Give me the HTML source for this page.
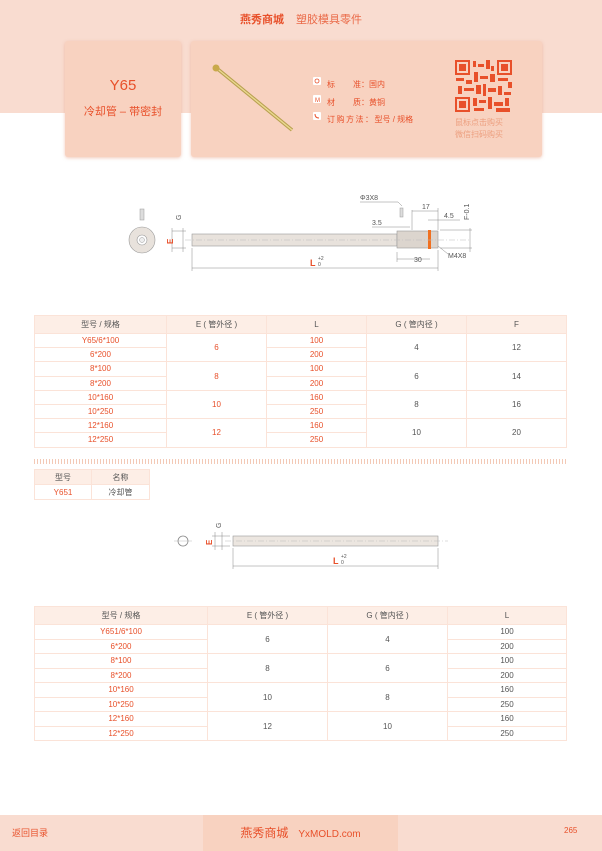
<!DOCTYPE html>
<html><head><meta charset="utf-8"><style>
*{margin:0;padding:0;box-sizing:border-box}
body{width:602px;height:851px;position:relative;background:#fff;font-family:"Liberation Sans","Noto Sans CJK SC",sans-serif;overflow:hidden}
.abs{position:absolute}
.band{left:0;top:0;width:602px;height:113px;background:#f9dcd0}
.card{background:#f8d2c0;border-radius:3px;box-shadow:0 1px 3px rgba(230,150,120,.5)}
table{border-collapse:collapse;position:absolute;font-size:8px;table-layout:fixed}
td,th{border:1px solid #fbe3d8;text-align:center;font-weight:normal;color:#555;padding:0}
th{background:#fdeee6;color:#555;font-size:8px}
.r{color:#e8502a}
.dots{left:34px;top:459px;width:532px;height:5px;background:repeating-linear-gradient(90deg,#f3c9b6 0 1px,transparent 1px 3px)}
</style></head><body>
<div class="abs band"></div>
<div class="abs" style="left:0;top:11px;width:602px;text-align:center;font-size:11px;color:#e8502a"><b>燕秀商城</b><span style="margin-left:12px;color:#ea6a48">塑胶模具零件</span></div>
<div class="abs card" style="left:65px;top:41px;width:116px;height:116px"></div>
<div class="abs" style="left:65px;top:77px;width:116px;text-align:center;font-size:15px;color:#e8502a">Y65</div>
<div class="abs" style="left:65px;top:103px;width:116px;text-align:center;font-size:11px;color:#e8502a">冷却管 – 带密封</div>
<div class="abs card" style="left:191px;top:41px;width:351px;height:116px"></div>
<svg class="abs" style="left:0;top:0" width="602" height="160">
<line x1="214" y1="66" x2="292" y2="130" stroke="#b8a050" stroke-width="3.5"/>
<line x1="214" y1="66" x2="292" y2="130" stroke="#ead890" stroke-width="1.4"/>
<circle cx="216" cy="68" r="3.5" fill="#c9a94a"/>
<g fill="#fff"><rect x="313" y="77" width="8" height="8" rx="1"/><rect x="313" y="95" width="8" height="8" rx="1"/><rect x="313" y="112" width="8" height="8" rx="1"/></g>
<circle cx="317" cy="81" r="2" fill="none" stroke="#e8502a" stroke-width=".8"/>
<text x="315" y="102" font-size="6" fill="#e8502a" font-family="Liberation Sans">M</text>
<path d="M315 114 q0 4 4 4" stroke="#e8502a" fill="none"/>
<g fill="#e8502a">
<rect x="455" y="60" width="15" height="15"/><rect x="497" y="60" width="15" height="15"/><rect x="455" y="97" width="15" height="15"/>
</g>
<g fill="#f8d2c0"><rect x="457" y="62" width="11" height="11"/><rect x="499" y="62" width="11" height="11"/><rect x="457" y="99" width="11" height="11"/></g>
<g fill="#e8502a"><rect x="459" y="64" width="7" height="7"/><rect x="501" y="64" width="7" height="7"/><rect x="459" y="101" width="7" height="7"/>
<rect x="473" y="61" width="3" height="6"/><rect x="478" y="64" width="6" height="3"/><rect x="486" y="60" width="4" height="9"/><rect x="491" y="66" width="3" height="5"/>
<rect x="456" y="78" width="8" height="3"/><rect x="466" y="80" width="6" height="4"/><rect x="474" y="72" width="4" height="10"/><rect x="480" y="76" width="8" height="3"/><rect x="490" y="74" width="5" height="8"/><rect x="498" y="78" width="10" height="3"/><rect x="508" y="82" width="4" height="6"/>
<rect x="458" y="86" width="4" height="8"/><rect x="464" y="88" width="10" height="3"/><rect x="476" y="85" width="5" height="9"/><rect x="483" y="84" width="3" height="12"/><rect x="488" y="88" width="8" height="4"/><rect x="498" y="86" width="4" height="9"/><rect x="504" y="92" width="7" height="3"/>
<rect x="473" y="98" width="4" height="8"/><rect x="479" y="100" width="7" height="3"/><rect x="488" y="97" width="4" height="12"/><rect x="494" y="102" width="9" height="4"/><rect x="505" y="98" width="4" height="8"/><rect x="474" y="108" width="10" height="3"/><rect x="496" y="108" width="14" height="4"/></g>
</svg>
<div class="abs" style="left:327px;top:76px;font-size:8px;color:#e8502a;line-height:17.5px">
<div>标<span style="margin-left:18px">准：国内</span></div>
<div>材<span style="margin-left:18px">质：黄铜</span></div>
<div style="letter-spacing:1.5px">订购方法：<span style="letter-spacing:0">型号 / 规格</span></div>
</div>
<div class="abs" style="left:455px;top:117px;font-size:8px;color:#eda080;line-height:12px">鼠标点击购买<br>微信扫码购买</div>

<svg class="abs" style="left:0;top:180px" width="602" height="100" font-family="Liberation Sans" font-size="7" fill="#555">
<g transform="translate(0,-180)">
<circle cx="142" cy="240" r="13" fill="#e8e2dc" stroke="#999" stroke-width=".6"/>
<circle cx="142" cy="240" r="5" fill="#fff" stroke="#999" stroke-width=".6"/>
<circle cx="142" cy="240" r="2.5" fill="#eee" stroke="#999" stroke-width=".5"/>
<rect x="140" y="209" width="4" height="11" fill="#ddd" stroke="#999" stroke-width=".5"/>
<rect x="192" y="234" width="205" height="12" fill="#e8e2dc" stroke="#999" stroke-width=".6"/>
<rect x="397" y="231" width="41" height="17" fill="#dcd5ce" stroke="#999" stroke-width=".6"/>
<rect x="428" y="230" width="3" height="19" fill="#f07020"/>
<line x1="185" y1="240" x2="470" y2="240" stroke="#bbb" stroke-width=".5" stroke-dasharray="6 2 1 2"/>
<rect x="400" y="208" width="3" height="9" fill="#ddd" stroke="#999" stroke-width=".5"/>
<g stroke="#888" stroke-width=".5" fill="none">
<line x1="192" y1="268" x2="438" y2="268"/><line x1="192" y1="248" x2="192" y2="271"/><line x1="438" y1="250" x2="438" y2="271"/>
<line x1="172" y1="228" x2="172" y2="252"/><line x1="172" y1="231" x2="186" y2="231"/><line x1="172" y1="248" x2="186" y2="248"/>
<line x1="183" y1="228" x2="183" y2="252"/>
<line x1="397" y1="252" x2="397" y2="262"/><line x1="397" y1="259" x2="430" y2="259"/>
<line x1="412" y1="210" x2="412" y2="230"/><line x1="412" y1="211" x2="438" y2="211"/><line x1="438" y1="208" x2="438" y2="230"/>
<line x1="428" y1="220" x2="460" y2="220"/>
<line x1="372" y1="227" x2="410" y2="227"/>
<line x1="360" y1="202" x2="398" y2="202"/><line x1="398" y1="202" x2="402" y2="206"/>
<line x1="470" y1="228" x2="470" y2="252"/><line x1="440" y1="230" x2="472" y2="230"/><line x1="440" y1="248" x2="472" y2="248"/>
<line x1="438" y1="246" x2="448" y2="254"/>
</g>
<text x="360" y="200">Φ3X8</text><text x="372" y="225">3.5</text><text x="422" y="209">17</text><text x="444" y="218">4.5</text>
<text x="414" y="262">30</text><text x="448" y="258">M4X8</text>
<text x="181" y="220" transform="rotate(-90 181 220)">G</text>
<text x="469" y="220" transform="rotate(-90 469 220)">F-0.1</text>
<text x="173" y="244" transform="rotate(-90 173 244)" fill="#e8502a" font-weight="bold" font-size="8">E</text>
<text x="310" y="266" fill="#e8502a" font-weight="bold" font-size="9">L</text><text x="318" y="260" font-size="5">+2</text><text x="318" y="266" font-size="5">0</text>
</g></svg>

<table style="left:34px;top:315px;width:532px">
<colgroup><col style="width:132px"><col style="width:100px"><col style="width:100px"><col style="width:100px"><col style="width:100px"></colgroup>
<tr style="height:18px"><th>型号 / 规格</th><th>E ( 管外径 )</th><th>L</th><th>G ( 管内径 )</th><th>F</th></tr>
<tr style="height:14.2px"><td class="r">Y65/6*100</td><td class="r" rowspan="2">6</td><td class="r">100</td><td rowspan="2">4</td><td rowspan="2">12</td></tr>
<tr style="height:14.2px"><td class="r">6*200</td><td class="r">200</td></tr>
<tr style="height:14.2px"><td class="r">8*100</td><td class="r" rowspan="2">8</td><td class="r">100</td><td rowspan="2">6</td><td rowspan="2">14</td></tr>
<tr style="height:14.2px"><td class="r">8*200</td><td class="r">200</td></tr>
<tr style="height:14.2px"><td class="r">10*160</td><td class="r" rowspan="2">10</td><td class="r">160</td><td rowspan="2">8</td><td rowspan="2">16</td></tr>
<tr style="height:14.2px"><td class="r">10*250</td><td class="r">250</td></tr>
<tr style="height:14.2px"><td class="r">12*160</td><td class="r" rowspan="2">12</td><td class="r">160</td><td rowspan="2">10</td><td rowspan="2">20</td></tr>
<tr style="height:14.2px"><td class="r">12*250</td><td class="r">250</td></tr>
</table>
<div class="abs dots"></div>
<table style="left:34px;top:469px;width:115px">
<colgroup><col style="width:57px"><col style="width:58px"></colgroup>
<tr style="height:15px"><th>型号</th><th>名称</th></tr>
<tr style="height:15px"><td class="r">Y651</td><td>冷却管</td></tr>
</table>

<svg class="abs" style="left:0;top:510px" width="602" height="70" font-family="Liberation Sans" font-size="7" fill="#555">
<g transform="translate(0,-510)">
<circle cx="183" cy="541" r="5" fill="#fff" stroke="#888" stroke-width=".8"/>
<line x1="174" y1="541" x2="192" y2="541" stroke="#aaa" stroke-width=".4"/>
<rect x="233" y="536" width="205" height="10" fill="#ece6e0" stroke="#999" stroke-width=".6"/>
<line x1="225" y1="541" x2="448" y2="541" stroke="#bbb" stroke-width=".5" stroke-dasharray="6 2 1 2"/>
<g stroke="#888" stroke-width=".5"><line x1="233" y1="566" x2="438" y2="566"/><line x1="233" y1="548" x2="233" y2="569"/><line x1="438" y1="548" x2="438" y2="569"/>
<line x1="215" y1="532" x2="215" y2="550"/><line x1="222" y1="532" x2="222" y2="550"/><line x1="212" y1="536" x2="230" y2="536"/><line x1="212" y1="546" x2="230" y2="546"/></g>
<text x="221" y="528" transform="rotate(-90 221 528)">G</text>
<text x="212" y="545" transform="rotate(-90 212 545)" fill="#e8502a" font-weight="bold" font-size="8">E</text>
<text x="333" y="564" fill="#e8502a" font-weight="bold" font-size="9">L</text><text x="341" y="558" font-size="5">+2</text><text x="341" y="564" font-size="5">0</text>
</g></svg>

<table style="left:34px;top:606px;width:532px">
<colgroup><col style="width:173px"><col style="width:120px"><col style="width:120px"><col style="width:119px"></colgroup>
<tr style="height:18px"><th>型号 / 规格</th><th>E ( 管外径 )</th><th>G ( 管内径 )</th><th>L</th></tr>
<tr style="height:14.5px"><td class="r">Y651/6*100</td><td rowspan="2">6</td><td rowspan="2">4</td><td>100</td></tr>
<tr style="height:14.5px"><td class="r">6*200</td><td>200</td></tr>
<tr style="height:14.5px"><td class="r">8*100</td><td rowspan="2">8</td><td rowspan="2">6</td><td>100</td></tr>
<tr style="height:14.5px"><td class="r">8*200</td><td>200</td></tr>
<tr style="height:14.5px"><td class="r">10*160</td><td rowspan="2">10</td><td rowspan="2">8</td><td>160</td></tr>
<tr style="height:14.5px"><td class="r">10*250</td><td>250</td></tr>
<tr style="height:14.5px"><td class="r">12*160</td><td rowspan="2">12</td><td rowspan="2">10</td><td>160</td></tr>
<tr style="height:14.5px"><td class="r">12*250</td><td>250</td></tr>
</table>

<div class="abs" style="left:0;top:815px;width:602px;height:36px;background:#f9dcd0"></div>
<div class="abs" style="left:203px;top:815px;width:195px;height:36px;background:#f8d2c0"></div>
<div class="abs" style="left:12px;top:826px;font-size:9px;color:#e8502a">返回目录</div>
<div class="abs" style="left:203px;top:824px;width:195px;text-align:center;font-size:12px;color:#e8502a">燕秀商城<span style="font-size:10px;margin-left:10px">YxMOLD.com</span></div>
<div class="abs" style="left:564px;top:826px;font-size:8px;color:#e8502a">265</div>
</body></html>
